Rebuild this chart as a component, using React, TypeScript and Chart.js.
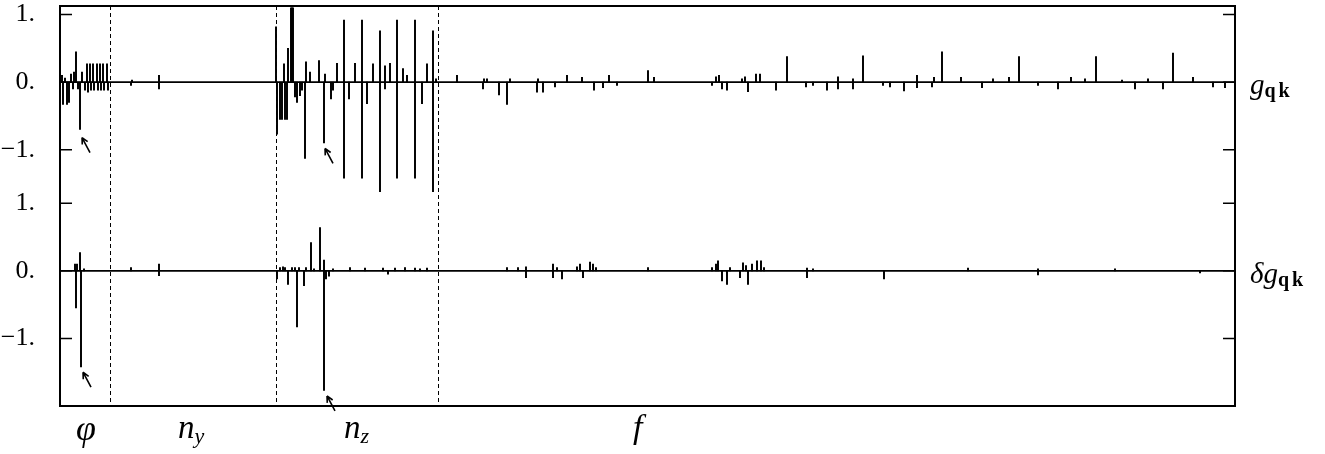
import { useEffect, useRef } from "react";
import { Chart, registerables } from "chart.js";

Chart.register(...registerables);

// x axis: parameter index (0..1175), regions phi | n_y | n_z | f
const X_MIN = 0;
const X_MAX = 1175;
// the two traces share one y axis; the upper trace is shifted up by this offset
const TOP_OFFSET = 2.793;
const Y_MIN = -2.0;
const Y_MAX = 3.92;

// g_qk (upper trace)
const topX = [
  2, 3, 5, 7, 9, 11, 13, 14, 16, 18, 20, 22, 25, 27, 28, 30, 31, 33, 34, 37, 38, 40, 41, 43, 44, 47, 48,
  71, 72, 99, 99,
  216, 217, 220, 222, 224, 225, 227, 228, 231, 232, 233, 235, 237, 240, 242, 245, 246, 250, 259, 264, 265,
  271, 273, 277, 284, 284, 289, 295, 302, 302, 307, 313, 320, 320, 325, 325, 330, 337, 337, 343, 347,
  355, 355, 362, 367, 373, 373, 376,
  397, 423, 424, 427, 439, 447, 450, 477, 478, 483, 495, 507, 522, 534, 543, 549, 557, 588, 594,
  652, 656, 659, 662, 667, 682, 685, 688, 696, 700, 716, 727, 746, 753, 767, 778, 778, 793, 793, 803,
  823, 830, 844, 857, 857, 872, 874, 882, 901, 922, 933, 949, 959, 978, 998, 1011, 1025, 1036, 1062,
  1075, 1088, 1103, 1113, 1133, 1153, 1165,
];
const topV = [
  0.1, -0.33, 0.06, -0.33, -0.3, 0.12, -0.1, 0.15, 0.45, -0.1, -0.7, 0.15, -0.12, 0.27, -0.15, 0.27, -0.12, 0.27, -0.12, 0.27, -0.12, 0.27, -0.12, 0.27, -0.12, 0.27, -0.12,
  -0.05, 0.03, 0.1, -0.1,
  0.82, -0.77, -0.55, -0.55, 0.27, -0.55, -0.55, 0.5, 1.1, 1.1, 1.1, -0.22, -0.3, -0.2, -0.12, -1.13, 0.3, 0.15, 0.32, -0.9, 0.12,
  -0.25, -0.12, 0.28, 0.92, -1.42, -0.25, 0.28, 0.92, -1.42, -0.32, 0.27, 0.76, -1.62, 0.24, -0.1, 0.28, 0.92, -1.42, 0.2, 0.1,
  0.92, -1.42, -0.32, 0.27, 0.76, -1.62, 0.05,
  0.1, -0.1, 0.05, 0.05, -0.19, -0.33, 0.05, -0.15, 0.05, -0.15, -0.07, 0.1, 0.07, -0.12, -0.08, 0.1, -0.05, 0.17, 0.07,
  -0.05, 0.08, 0.1, -0.1, -0.12, 0.05, 0.08, -0.14, 0.12, 0.12, -0.12, 0.38, -0.07, -0.05, -0.12, 0.08, -0.1, -0.1, 0.05, 0.39,
  -0.05, -0.07, -0.13, 0.1, -0.08, -0.07, 0.07, 0.45, 0.07, -0.08, 0.05, 0.07, 0.38, -0.05, -0.1, 0.07, 0.05, 0.38, 0.03,
  -0.1, 0.05, -0.1, 0.43, 0.07, -0.07, -0.08,
];

// delta g_qk (lower trace)
const botX = [
  15, 16, 17, 20, 21, 24,
  71, 99, 99,
  217, 220, 223, 225, 228, 232, 235, 237, 239, 244, 246, 251, 254, 260, 264, 264, 266, 269, 273,
  290, 305, 323, 328, 335, 345, 355, 360, 367,
  447, 458, 466, 466, 493, 493, 497, 502, 517, 520, 523, 530, 533, 536, 588,
  652, 656, 658, 662, 667, 670, 680, 683, 686, 688, 692, 697, 701, 704, 747, 747, 753, 824,
  908, 978, 978, 1055, 1140,
];
const botV = [
  0.1, -0.55, 0.1, 0.27, -1.42, 0.03,
  0.05, 0.1, -0.07,
  -0.12, 0.05, 0.06, 0.05, -0.2, 0.05, 0.05, -0.83, 0.05, -0.22, 0.05, 0.42, 0.03, 0.64, 0.16, -1.77, -0.12, -0.08, 0.03,
  0.05, 0.04, 0.04, -0.05, 0.04, 0.05, 0.04, 0.03, 0.04,
  0.05, 0.05, 0.06, -0.1, 0.1, -0.1, 0.05, -0.12, 0.06, 0.1, -0.1, 0.13, 0.1, 0.05, 0.05,
  0.05, 0.1, 0.15, -0.15, -0.2, 0.05, -0.1, 0.12, 0.08, -0.2, 0.1, 0.15, 0.15, 0.05, -0.1, 0.04, 0.03, -0.12,
  0.04, -0.06, 0.03, 0.03, -0.03,
];

const dividerX = [49.5, 215.5, 378];
const regionX = [26, 118, 284, 573];
const regionMain = ["φ", "n", "n", "f"];
const regionSub = ["", "y", "z", ""];
const tickValues = [1, 0, -1];
const tickLabels = ["1.", "0.", "−1."];
const arrowX = [22, 265, 23, 267];
const arrowY = [-0.82, -0.98, -1.5, -1.85];
const arrowOnTop = [true, true, false, false];

const SERIF = "'Liberation Serif', 'Times New Roman', serif";

const allTicks = [
  ...tickValues.map((v, i) => ({ value: v + TOP_OFFSET, label: tickLabels[i] })),
  ...tickValues.map((v, i) => ({ value: v, label: tickLabels[i] })),
];

type Part = { t: string; font: string; dy: number; sp?: number };

function drawParts(ctx: CanvasRenderingContext2D, x: number, y: number, parts: Part[]) {
  let cx = x;
  for (const p of parts) {
    ctx.font = p.font;
    const sp = p.sp || 0;
    for (const ch of Array.from(p.t)) {
      ctx.fillText(ch, cx, y + p.dy);
      cx += ctx.measureText(ch).width + sp;
    }
  }
}

const decorPlugin = {
  id: "decor",
  beforeDatasetsDraw(chart: any) {
    const { ctx, chartArea, scales } = chart;
    ctx.save();
    ctx.strokeStyle = "#000";
    ctx.lineWidth = 1;
    ctx.setLineDash([4, 3]);
    for (const d of dividerX) {
      const px = Math.round(scales.x.getPixelForValue(d)) + 0.5;
      ctx.beginPath();
      ctx.moveTo(px, chartArea.top);
      ctx.lineTo(px, chartArea.bottom);
      ctx.stroke();
    }
    ctx.restore();
  },
  afterDraw(chart: any) {
    const { ctx, chartArea, scales } = chart;
    const xs = scales.x;
    const ys = scales.y;
    ctx.save();
    ctx.strokeStyle = "#000";
    ctx.fillStyle = "#000";
    // frame
    ctx.lineWidth = 2;
    ctx.strokeRect(chartArea.left, chartArea.top, chartArea.right - chartArea.left, chartArea.bottom - chartArea.top);
    // inward ticks
    ctx.lineWidth = 1.5;
    for (const t of allTicks) {
      const py = ys.getPixelForValue(t.value);
      ctx.beginPath();
      ctx.moveTo(chartArea.left, py);
      ctx.lineTo(chartArea.left + 12, py);
      ctx.moveTo(chartArea.right - 12, py);
      ctx.lineTo(chartArea.right, py);
      ctx.stroke();
    }
    // arrows
    ctx.lineWidth = 1.6;
    for (let i = 0; i < arrowX.length; i++) {
      const tx = xs.getPixelForValue(arrowX[i]);
      const ty = ys.getPixelForValue(arrowY[i] + (arrowOnTop[i] ? TOP_OFFSET : 0));
      const ex = tx + 8;
      const ey = ty + 15;
      ctx.beginPath();
      ctx.moveTo(tx, ty);
      ctx.lineTo(ex, ey);
      const ang = Math.atan2(ey - ty, ex - tx);
      for (const s of [-0.45, 0.45]) {
        ctx.moveTo(tx, ty);
        ctx.lineTo(tx + 7 * Math.cos(ang + s), ty + 7 * Math.sin(ang + s));
      }
      ctx.stroke();
    }
    // region labels
    ctx.textBaseline = "alphabetic";
    const baseY = chartArea.bottom + 32;
    for (let i = 0; i < regionX.length; i++) {
      const px = xs.getPixelForValue(regionX[i]);
      if (regionSub[i] === "") {
        ctx.font = `italic ${i === 0 ? 36 : 34}px ${SERIF}`;
        ctx.textAlign = i === 0 ? "center" : "left";
        ctx.fillText(regionMain[i], px, baseY + (i === 0 ? 2 : 0));
      } else {
        ctx.textAlign = "left";
        drawParts(ctx, px, baseY, [
          { t: regionMain[i], font: `italic 33px ${SERIF}`, dy: 0 },
          { t: regionSub[i], font: `italic 22px ${SERIF}`, dy: 5 },
        ]);
      }
    }
    // right-hand trace labels
    ctx.textAlign = "left";
    const yTop = ys.getPixelForValue(TOP_OFFSET);
    const yBot = ys.getPixelForValue(0);
    const lx = chartArea.right + 15;
    drawParts(ctx, lx, yTop + 12, [
      { t: "g", font: `italic 29px ${SERIF}`, dy: 0 },
      { t: "qk", font: `bold 20px ${SERIF}`, dy: 3, sp: 3 },
    ]);
    drawParts(ctx, lx, yBot + 12, [
      { t: "δ", font: `italic 29px ${SERIF}`, dy: 0 },
      { t: "g", font: `italic 29px ${SERIF}`, dy: 0 },
      { t: "qk", font: `bold 20px ${SERIF}`, dy: 3, sp: 3 },
    ]);
    ctx.restore();
  },
};

export default function App() {
  const ref = useRef<HTMLCanvasElement | null>(null);
  useEffect(() => {
    if (!ref.current) return;
    const barStyle = {
      type: "bar" as const,
      backgroundColor: "#000",
      borderWidth: 0,
      barThickness: 1.3,
      grouped: false,
      order: 1,
    };
    const chart = new Chart(ref.current, {
      type: "bar",
      data: {
        datasets: [
          {
            ...barStyle,
            label: "g_qk",
            data: topX.map((x, i) => ({ x, y: [TOP_OFFSET, TOP_OFFSET + topV[i]] })),
          } as any,
          {
            ...barStyle,
            label: "δg_qk",
            data: botX.map((x, i) => ({ x, y: [0, botV[i]] })),
          } as any,
          {
            type: "line",
            label: "g_qk baseline",
            data: [
              { x: X_MIN, y: TOP_OFFSET },
              { x: X_MAX, y: TOP_OFFSET },
            ],
            borderColor: "#000",
            borderWidth: 1.8,
            pointRadius: 0,
            order: 0,
          } as any,
          {
            type: "line",
            label: "δg_qk baseline",
            data: [
              { x: X_MIN, y: 0 },
              { x: X_MAX, y: 0 },
            ],
            borderColor: "#000",
            borderWidth: 1.8,
            pointRadius: 0,
            order: 0,
          } as any,
        ],
      },
      options: {
        animation: false,
        responsive: true,
        maintainAspectRatio: false,
        layout: { padding: { left: 0, right: 90, top: 6, bottom: 48 } },
        plugins: { legend: { display: false }, tooltip: { enabled: false } },
        scales: {
          x: {
            type: "linear",
            min: X_MIN,
            max: X_MAX,
            offset: false,
            display: false,
          },
          y: {
            type: "linear",
            min: Y_MIN,
            max: Y_MAX,
            grid: { display: false },
            border: { display: false },
            afterBuildTicks: (scale: any) => {
              scale.ticks = allTicks.map((t) => ({ value: t.value }));
            },
            afterFit: (scale: any) => {
              scale.width = 60;
              scale.paddingTop = 0;
              scale.paddingBottom = 0;
            },
            ticks: {
              color: "#000",
              padding: 17,
              font: { family: SERIF, size: 26 },
              callback: (value: any) => {
                const t = allTicks.find((a) => Math.abs(a.value - Number(value)) < 1e-6);
                return t ? t.label : "";
              },
            },
          },
        },
      },
      plugins: [decorPlugin],
    } as any);
    return () => chart.destroy();
  }, []);
  return (
    <div style={{ position: "absolute", left: 0, top: 0, width: 1325, height: 454, background: "#fff" }}>
      <canvas ref={ref} />
    </div>
  );
}
